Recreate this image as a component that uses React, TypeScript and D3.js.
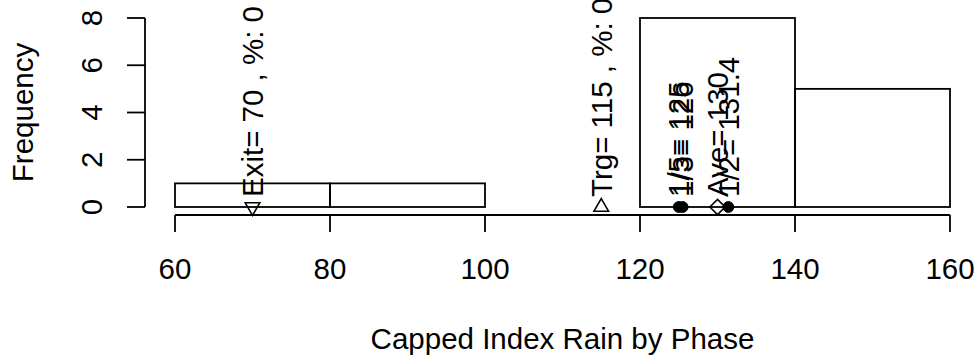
import React from "react";
import * as d3 from "d3";

// Histogram bins (left edges + final right edge) and counts per bin
const binEdges = [60, 80, 100, 120, 140, 160];
const binCounts = [1, 1, 0, 8, 5];

// Reference markers drawn on the zero line
const markerNames = ["Exit", "Trg", "1/5", "1/3", "Ave", "1/2"];
const markerValues = [70, 115, 125, 125.5, 130, 131.4];
const markerShapes = ["down", "up", "dot", "dot", "diamond", "dot"];
const markerDigits = [0, 0, 0, 0, 0, 1];
const markerPercents: (number | null)[] = [0, 0, null, null, null, null];

const xTicks = [60, 80, 100, 120, 140, 160];
const yTicks = [0, 2, 4, 6, 8];

const xLabel = "Capped Index Rain by Phase";
const yLabel = "Frequency";

const W = 980;
const H = 360;
const FONT = "'Liberation Sans', Arial, Helvetica, sans-serif";
const FS = 29.5;
const R = 5.4; // symbol radius

export default function App() {
  const x = d3.scaleLinear().domain([60, 160]).range([175, 950]);
  const y = d3.scaleLinear().domain([0, 8]).range([207, 18]);

  const bins = binCounts.map((c, i) => ({ x0: binEdges[i], x1: binEdges[i + 1], count: c }));

  const fmt = (v: number, d: number) => {
    const p = Math.pow(10, d);
    return String(Math.round(v * p) / p);
  };

  const label = (i: number) => {
    const base = `${markerNames[i]}= ${fmt(markerValues[i], markerDigits[i])}`;
    const pct = markerPercents[i];
    return pct === null ? base : `${base} , %: ${pct}`;
  };

  const symbol = (shape: string, cx: number, cy: number, key: number) => {
    const sw = 1.6;
    if (shape === "dot") {
      return <circle key={key} cx={cx} cy={cy} r={R} fill="#000" stroke="#000" strokeWidth={1} />;
    }
    if (shape === "diamond") {
      const s = Math.SQRT2 * R;
      const path = d3.path();
      path.moveTo(cx - s, cy);
      path.lineTo(cx, cy - s);
      path.lineTo(cx + s, cy);
      path.lineTo(cx, cy + s);
      path.closePath();
      return <path key={key} d={path.toString()} fill="none" stroke="#000" strokeWidth={sw} />;
    }
    const TRC0 = 1.5551203015562142;
    const r = TRC0 * R;
    const xc = (TRC0 * Math.sqrt(3)) / 2 * R;
    const yc = (TRC0 / 2) * R;
    const dir = shape === "up" ? 1 : -1;
    const path = d3.path();
    path.moveTo(cx, cy - dir * r);
    path.lineTo(cx + xc, cy + dir * yc);
    path.lineTo(cx - xc, cy + dir * yc);
    path.closePath();
    return <path key={key} d={path.toString()} fill="none" stroke="#000" strokeWidth={sw} />;
  };

  const axisY = 215;
  const tickLen = 17;
  const yAxisX = 145;

  return (
    <svg
      width={W}
      height={H}
      viewBox={`0 0 ${W} ${H}`}
      style={{ position: "absolute", left: 0, top: 0, background: "#fff" }}
      fontFamily={FONT}
      fontSize={FS}
    >
      <rect x={0} y={0} width={W} height={H} fill="#fff" />

      {/* histogram bars */}
      {bins.map((b, i) => (
        <rect
          key={i}
          x={x(b.x0)}
          y={y(b.count)}
          width={x(b.x1) - x(b.x0)}
          height={y(0) - y(b.count)}
          fill="none"
          stroke="#000"
          strokeWidth={1.8}
        />
      ))}

      {/* x axis */}
      <line x1={x(xTicks[0])} x2={x(xTicks[xTicks.length - 1])} y1={axisY} y2={axisY} stroke="#000" strokeWidth={1.8} />
      {xTicks.map((t) => (
        <g key={t}>
          <line x1={x(t)} x2={x(t)} y1={axisY} y2={axisY + tickLen} stroke="#000" strokeWidth={1.8} />
          <text x={x(t)} y={279} textAnchor="middle">
            {t}
          </text>
        </g>
      ))}

      {/* y axis */}
      <line x1={yAxisX} x2={yAxisX} y1={y(yTicks[0])} y2={y(yTicks[yTicks.length - 1])} stroke="#000" strokeWidth={1.8} />
      {yTicks.map((t) => (
        <g key={t}>
          <line x1={yAxisX - 18} x2={yAxisX} y1={y(t)} y2={y(t)} stroke="#000" strokeWidth={1.8} />
          <text transform={`translate(102,${y(t)}) rotate(-90)`} textAnchor="middle">
            {t}
          </text>
        </g>
      ))}

      {/* axis titles */}
      <text x={(x(60) + x(160)) / 2} y={349} textAnchor="middle">
        {xLabel}
      </text>
      <text transform={`translate(33,${(y(0) + y(8)) / 2}) rotate(-90)`} textAnchor="middle">
        {yLabel}
      </text>

      {/* markers and their vertical labels */}
      {markerValues.map((v, i) => symbol(markerShapes[i], x(v), y(0), i))}
      {markerValues.map((v, i) => (
        <text
          key={`l${i}`}
          transform={`translate(${x(v)},${y(0) - 10}) rotate(-90)`}
          dy="0.36em"
          textAnchor="start"
        >
          {label(i)}
        </text>
      ))}
    </svg>
  );
}
